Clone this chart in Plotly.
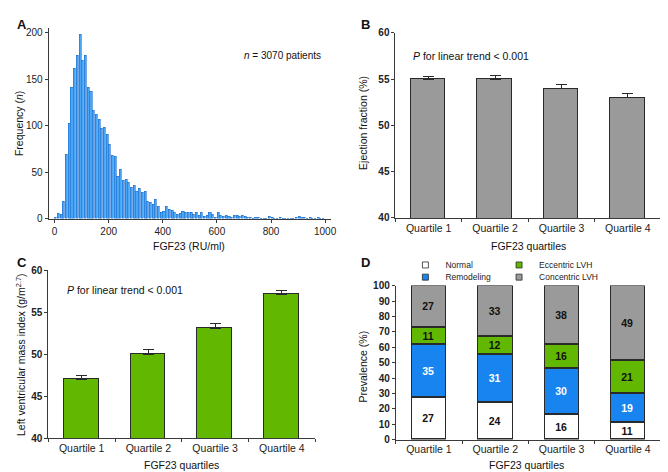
import plotly.graph_objects as go

W, H = 668, 472

# ---------------- Data ----------------
# Panel A: histogram of FGF23 (10 RU/ml bins, starting at 0)
fgf23_bin_start = list(range(0, 1000, 10))
fgf23_counts = [
    1, 5, 4, 18, 69, 102, 141, 162, 175, 198,
    170, 175, 141, 137, 116, 112, 107, 97, 98, 90,
    80, 68, 67, 45, 53, 41, 42, 39, 33, 36,
    29, 32, 28, 29, 18, 17, 15, 20, 13, 7,
    8, 13, 10, 9, 6, 4, 5, 8, 6, 6,
    6, 4, 7, 3, 6, 2, 3, 7, 4, 1,
    6, 3, 2, 3, 2, 1, 3, 3, 2, 3,
    2, 1, 1, 0, 1, 1, 0, 0, 0, 2,
    1, 0, 0, 1, 0, 0, 0, 0, 0, 1,
    2, 1, 1, 0, 1, 0, 0, 1, 0, 0,
]
bin_width = 10

quartiles = ["Quartile 1", "Quartile 2", "Quartile 3", "Quartile 4"]

# Panel B: ejection fraction
ef_mean = [55.0, 55.0, 54.0, 53.0]
ef_err = [0.3, 0.35, 0.4, 0.4]

# Panel C: LV mass index
lvmi_mean = [47.0, 50.0, 53.1, 57.1]
lvmi_err = [0.4, 0.5, 0.55, 0.5]

# Panel D: LV geometry prevalence (%)
normal = [27, 24, 16, 11]
remodeling = [35, 31, 30, 19]
eccentric = [11, 12, 16, 21]
concentric = [27, 33, 38, 49]

# ---------------- Helpers ----------------
FONT = "Liberation Sans, Arial, sans-serif"
AX = "#3a3a3a"
GRAY = "#9a9a9a"
GREEN = "#62b800"
BLUE = "#1784ef"


def fx(px):
    return px / W


def fy(py):
    return 1 - py / H


fig = go.Figure()

# Panel A
fig.add_trace(go.Bar(
    x=[b + bin_width / 2 for b in fgf23_bin_start], y=fgf23_counts, width=7.8,
    marker=dict(color="#4aa6f5", line=dict(color="#1a6fd0", width=0.6)),
    xaxis="x", yaxis="y", showlegend=False))

# Panel B
fig.add_trace(go.Bar(
    x=quartiles, y=ef_mean, width=0.52,
    marker=dict(color=GRAY, line=dict(color="#2a2a2a", width=1.2)),
    error_y=dict(type="data", array=ef_err, arrayminus=[0] * 4, symmetric=False,
                 color="#2a2a2a", thickness=1, width=5.5),
    xaxis="x2", yaxis="y2", showlegend=False))

# Panel C
fig.add_trace(go.Bar(
    x=quartiles, y=lvmi_mean, width=0.52,
    marker=dict(color=GREEN, line=dict(color="#2a2a2a", width=1.2)),
    error_y=dict(type="data", array=lvmi_err, arrayminus=[0] * 4, symmetric=False,
                 color="#2a2a2a", thickness=1, width=5.5),
    xaxis="x3", yaxis="y3", showlegend=False))

# Panel D stacked bars
stack = [
    ("Normal", normal, "#ffffff", "#111111", "legend"),
    ("Remodeling", remodeling, BLUE, "#ffffff", "legend2"),
    ("Eccentric LVH", eccentric, GREEN, "#111111", "legend3"),
    ("Concentric LVH", concentric, GRAY, "#111111", "legend4"),
]
for name, vals, col, tcol, lg in stack:
    fig.add_trace(go.Bar(
        x=quartiles, y=vals, width=0.52, name=name,
        marker=dict(color=col, line=dict(color="#2a2a2a", width=1.2)),
        text=vals, textposition="inside", insidetextanchor="middle",
        textangle=0, constraintext="none",
        textfont=dict(color=tcol, size=10.5, family=FONT, weight="bold"),
        xaxis="x4", yaxis="y4", showlegend=False))
    # legend key
    fig.add_trace(go.Scatter(
        x=[None], y=[None], mode="markers", name=name,
        marker=dict(symbol="square", size=6, color=col,
                    line=dict(color="#2a2a2a", width=0.8)),
        xaxis="x4", yaxis="y4", legend=lg, showlegend=True))

common = dict(showline=True, linecolor=AX, linewidth=1, ticks="outside",
              ticklen=3, tickcolor=AX, tickwidth=1, showgrid=False,
              zeroline=False, fixedrange=True)
tf = dict(family=FONT, size=10, color="#222222")
tfb = dict(family=FONT, size=10, color="#222222", weight="bold")

fig.update_layout(
    width=W, height=H, margin=dict(l=0, r=0, t=0, b=0),
    paper_bgcolor="white", plot_bgcolor="white",
    font=dict(family=FONT, color="#222222"),
    barmode="stack", bargap=0,
    xaxis=dict(domain=[fx(41), fx(326)], range=[-22, 1022], anchor="y",
               tickvals=[0, 200, 400, 600, 800, 1000], tickfont=tf, **common),
    yaxis=dict(domain=[fy(210), fy(14)], range=[0, 205.6], anchor="x",
               tickvals=[0, 50, 100, 150, 200], tickfont=tf, **common),
    xaxis2=dict(domain=[fx(391), fx(659)], range=[-0.5, 3.5], anchor="y2",
                type="category", tickson="boundaries",
                tickfont=dict(family=FONT, size=10.5, color="#222222"), **common),
    yaxis2=dict(domain=[fy(209.3), fy(19.3)], range=[40, 60], anchor="x2",
                tickvals=[40, 45, 50, 55, 60], tickfont=tfb, **common),
    xaxis3=dict(domain=[fx(40.7), fx(310)], range=[-0.5, 3.5], anchor="y3",
                type="category", tickson="boundaries",
                tickfont=dict(family=FONT, size=10.5, color="#222222"), **common),
    yaxis3=dict(domain=[fy(435.3), fy(262.7)], range=[40, 60], anchor="x3",
                tickvals=[40, 45, 50, 55, 60], tickfont=tfb, **common),
    xaxis4=dict(domain=[fx(391.3), fx(659)], range=[-0.5, 3.5], anchor="y4",
                type="category", tickson="boundaries",
                tickfont=dict(family=FONT, size=10.5, color="#222222"), **common),
    yaxis4=dict(domain=[fy(436.7), fy(278.7)], range=[0, 100], anchor="x4",
                tickvals=list(range(0, 101, 10)), tickfont=tfb, **common),
)

leg_common = dict(xref="paper", yref="paper", xanchor="left", yanchor="middle",
                  bgcolor="rgba(0,0,0,0)", borderwidth=0,
                  font=dict(family=FONT, size=8.5, color="#222222"))
fig.update_layout(
    legend=dict(x=fx(441 - 40), y=fy(257.5), **leg_common),
    legend2=dict(x=fx(441 - 40), y=fy(270), **leg_common),
    legend3=dict(x=fx(535.5 - 40), y=fy(257.5), **leg_common),
    legend4=dict(x=fx(535.5 - 40), y=fy(270), **leg_common),
)

ann = []


def add_text(text, x, y, size=10, xanchor="center", yanchor="middle", angle=0, bold=False):
    ann.append(dict(text=text, x=fx(x), y=fy(y), xref="paper", yref="paper",
                    xanchor=xanchor, yanchor=yanchor, showarrow=False,
                    textangle=angle,
                    font=dict(family=FONT, size=size, color="#111111",
                              weight="bold" if bold else "normal")))


# panel letters
add_text("A", 7, 10.5, size=13, xanchor="left", bold=True)
add_text("B", 354.5, 10.5, size=13, xanchor="left", bold=True)
add_text("C", 7, 255, size=13, xanchor="left", bold=True)
add_text("D", 354.5, 255, size=13, xanchor="left", bold=True)

# in-plot notes
add_text("<i>n</i> = 3070 patients", 236, 42.7, size=10, xanchor="left")
add_text("<i>P</i> for linear trend < 0.001", 407, 42.7, size=10.5, xanchor="left")
add_text("<i>P</i> for linear trend < 0.001", 57.3, 283.3, size=10.5, xanchor="left")

# axis titles
add_text("FGF23 (RU/ml)", 183, 238.5, size=10.5)
add_text("FGF23 quartiles", 525, 238.5, size=10.5)
add_text("FGF23 quartiles", 175, 463, size=10.5)
add_text("FGF23 quartiles", 523, 463, size=10.5)
add_text("Frequency (<i>n</i>)", 11, 112, size=10.5, angle=-90)
add_text("Ejection fraction (%)", 358, 112, size=10.5, angle=-90)
add_text("Left ventricular mass index (g/m<sup>2.7</sup>)", 12, 349, size=10.5, angle=-90)
add_text("Prevalence (%)", 358, 362, size=10.5, angle=-90)

fig.update_layout(annotations=ann)

fig.write_html("out.html")
